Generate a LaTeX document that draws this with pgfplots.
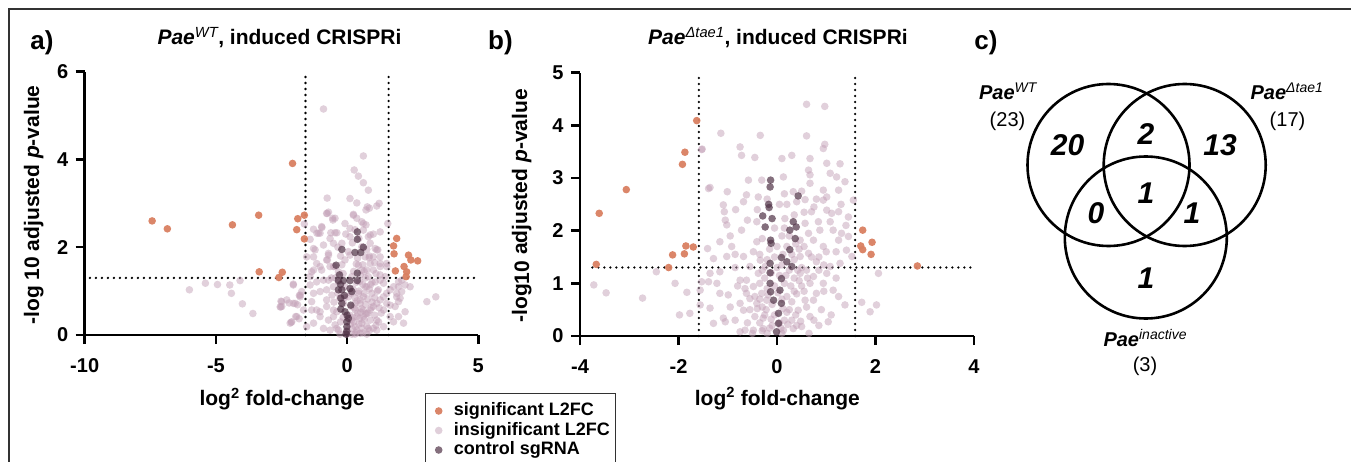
\documentclass[border=0pt]{standalone}
\usepackage{pgfplots}
\pgfplotsset{compat=1.18}
\usepackage{fontspec}
\setmainfont{Liberation Sans}
\definecolor{sigc}{RGB}{217,127,97}
\definecolor{insc}{RGB}{195,161,183}
\definecolor{ctlc}{RGB}{80,50,70}
\definecolor{framec}{RGB}{50,50,50}
\pgfplotsset{
  volc/.style={
    scale only axis, clip=false,
    axis lines=left, axis line style={-, line width=2.5pt, black},
    tick align=outside, major tick length=9pt,
    tick style={line width=2.5pt, black},
    /pgf/number format/assume math mode=true,
    tick label style={font=\fontsize{20}{23}\selectfont\bfseries},
    xticklabel style={yshift=-11pt},
    yticklabel style={xshift=-4pt},
    label style={font=\fontsize{21}{25}\selectfont\bfseries},
    title style={font=\fontsize{21}{25}\selectfont\bfseries},
  },
  insig/.style={only marks, mark=*, mark size=3.8pt, color=insc, mark options={draw opacity=0, line width=0pt, fill=insc, fill opacity=0.5}},
  ctl/.style={only marks, mark=*, mark size=3.8pt, color=ctlc, mark options={draw opacity=0, line width=0pt, fill=ctlc, fill opacity=0.7}},
  sig/.style={only marks, mark=*, mark size=3.8pt, color=sigc, mark options={draw opacity=0, line width=0pt, fill=sigc, fill opacity=0.95}},
  thr/.style={black, line width=2.6pt, line cap=round, dash pattern={on 0pt off 6pt}, no marks},
}
\newcommand{\legdot}[2]{\addlegendimage{legend image code/.code={%
  \draw[draw opacity=0, mark=*, mark repeat=2, mark phase=2, mark size=3.8pt, mark options={draw opacity=0, fill=#1, fill opacity=#2}] plot coordinates {(0pt,0pt) (8.5pt,0pt) (19.5pt,0pt)};}}}
\begin{document}
\begin{tikzpicture}
\useasboundingbox (0pt,0pt) rectangle (1351pt,461pt);
\clip (0pt,0pt) rectangle (1351pt,461pt);
\draw[framec, line width=1.2pt] (9pt,-10pt) -- (9pt,452pt) -- (1360pt,452pt);

% ---------------- panel a ----------------
\begin{axis}[volc, at={(84.7pt,126pt)}, anchor=south west,
  width=393.6pt, height=263.3pt,
  xmin=-10, xmax=5, ymin=0, ymax=6,
  xtick={-10,-5,0,5}, ytick={0,2,4,6},
  title={\textit{Pae}\textsuperscript{\mdseries\itshape WT}, induced CRISPRi},
  title style={at={(axis description cs:0.4949,1.08)}, anchor=base},
  xlabel={log\textsuperscript{2} fold-change},
  xlabel style={at={(axis description cs:0.5013,-0.268)}, anchor=base},
  ylabel={-log 10 adjusted \textit{p}-value},
  ylabel style={at={(axis description cs:-0.116,0.494)}, anchor=base},
  legend style={at={(axis description cs:0.8646,-0.219)}, anchor=north west,
    draw=framec, line width=1.2pt, inner xsep=4pt, inner ysep=8pt,
    font=\fontsize{18}{21}\selectfont\bfseries,
    nodes={inner sep=1.5pt, text height=13pt, text depth=3.5pt},
    column sep=2pt},
  legend cell align=left,
]
\legdot{sigc}{0.95}
\addlegendentry{significant L2FC}
\legdot{insc}{0.5}
\addlegendentry{insignificant L2FC}
\legdot{ctlc}{0.7}
\addlegendentry{control sgRNA}

\addplot[insig, forget plot] coordinates {
(-6.01,1.03) (-5.40,1.18) (-4.94,1.15) (-4.47,1.14) (-4.41,0.95) (-4.08,1.24) (-3.99,0.71) (-3.59,0.49)
(-2.52,0.77) (-2.53,0.64) (-2.21,0.73) (-2.05,1.16) (-1.89,0.69) (-1.82,0.90) (-2.13,0.29) (-1.96,0.42)
(-1.83,0.37) (-1.54,0.19) (-1.63,2.53) (-1.28,2.41) (-1.15,2.32) (-0.90,5.15)
(0.62,4.08) (0.27,3.76) (0.43,3.62) (0.62,3.47) (0.81,3.30) (-0.76,3.12) (0.11,3.11) (0.37,3.01)
(0.77,2.92) (1.22,3.00) (1.13,2.94) (0.85,2.89) (-0.76,2.77) (-0.55,2.66) (0.24,2.75) (0.37,2.66)
(0.72,2.85) (-0.71,2.80) (-0.54,2.62) (1.55,2.54) (-0.96,2.45) (-1.03,2.32) (-0.62,2.33) (-0.39,2.33)
(0.62,2.54) (0.81,2.24) (1.07,1.97) (1.17,1.94) (0.84,1.76) (1.26,1.63) (1.51,1.56) (1.45,1.33)
(-1.28,1.97) (-1.28,1.78) (-1.03,1.56) (-1.35,1.44) (-0.71,1.86) (-0.75,1.71) (-0.52,1.56)
(-1.79,0.91) (-2.05,0.72) (-2.49,0.76) (-2.55,0.64) (-2.11,0.30) (-1.92,0.42) (-1.35,0.57) (-1.03,0.53)
(-0.90,0.15) (1.64,1.03) (1.89,0.87) (1.96,0.76) (1.64,0.68) (3.04,0.76) (3.38,0.87) (2.21,1.14) (1.96,1.10)
(-0.78,2.77) (-0.46,2.66) (-0.97,2.47) (-0.46,2.33) (-1.09,2.32) (0.24,2.73) (0.56,2.58) (0.72,2.51)
(0.88,2.28) (1.26,2.35) (-0.08,2.54) (0.11,2.43) (0.62,2.39) (-0.90,2.05) (-0.71,1.82) (-0.52,2.09)
(-0.78,1.71) (-1.16,1.63) (-1.28,1.48) (-0.97,1.48) (-0.65,1.56) (-1.41,1.14) (-1.28,0.95) (-1.35,0.76)
(-1.98,0.72) (-1.79,0.87) (-2.05,1.14) (-2.30,0.80) (-2.49,0.65) (-2.17,0.27) (-1.66,0.57)
(-1.16,0.57) (-1.03,0.42) (-1.28,0.27) (-0.78,0.65) (-0.78,1.03) (-0.71,0.34) (-0.52,0.57) (-0.46,0.23)
(-0.65,0.11) (0.56,2.01) (0.88,2.09) (1.13,1.94) (1.00,1.78) (0.69,1.78) (1.26,1.56) (1.00,1.48)
(1.26,1.37) (1.07,1.21) (0.75,1.48) (0.69,1.10) (0.94,0.95) (1.19,1.03) (1.39,1.18) (1.51,0.95)
(1.26,0.80) (1.00,0.65) (0.75,0.49) (0.56,0.27) (0.37,0.11) (0.18,0.02) (0.81,0.15) (1.13,0.34)
(1.39,0.57) (1.51,0.72) (1.77,1.10) (1.96,1.21) (1.89,0.95) (2.02,0.84) (1.83,0.65) (1.64,0.42)
(1.77,0.30) (2.08,1.25) (0.43,0.95) (0.31,0.72) (0.31,0.57) (0.37,0.42) (0.18,0.34) (-0.01,0.11)
(0.50,0.72) (0.62,0.87) (-0.20,2.09) (0.11,2.24) (-0.33,1.21) (-0.08,1.10) (0.05,0.87) (-0.27,0.84)
(-0.39,0.53) (-0.52,0.42) (-0.33,0.11) (-0.14,0.72) (0.18,1.33) (0.50,1.37) (0.81,1.33) (-0.33,1.44)
(-1.16,1.21) (-1.03,0.99) (-1.73,0.99) (-0.90,1.25) (-1.41,1.33) (-0.08,1.71) (0.11,1.82) (0.43,1.59)
(0.56,1.48) (0.88,1.63) (1.26,1.78) (1.51,1.63) (1.26,1.25) (1.39,0.87) (1.13,0.72) (0.88,0.57)
(0.62,0.57) (0.62,0.42) (0.88,0.34) (1.39,0.19) (1.13,0.11) (0.75,0.02) (0.50,0.04) (-0.01,0.02)
(-0.27,0.02) (0.31,0.19) (0.56,0.15) (-0.78,0.80) (-0.58,0.91) (-0.71,1.25) (-0.52,1.10) (-0.46,1.56)
(-1.54,1.78) (-1.41,2.18) (-1.22,1.94) (2.08,0.99) (2.40,1.10) (1.96,0.42) (2.21,0.53) (2.15,0.27)
(0.25,0.30) (0.45,0.25) (0.65,0.35) (0.75,0.20) (0.40,0.50) (0.55,0.60) (0.70,0.70) (0.30,0.85)
(0.45,1.00) (0.60,1.15) (0.85,1.05) (0.95,0.75) (1.05,0.45) (0.20,0.15) (0.10,0.45) (0.35,0.05)
(0.60,0.05) (0.80,0.50) (0.50,0.80) (0.15,0.65) (0.95,1.20) (0.70,1.30) (0.35,1.20) (0.25,1.45)
(0.60,1.60) (0.40,1.75) (0.85,1.80) (1.10,1.40) (1.15,1.00) (1.20,0.30) (1.00,0.15) (-0.10,0.85)
(-0.25,0.30) (-0.40,0.15) (-0.50,0.75) (-0.60,1.30) (-0.20,1.60) (0.05,1.90) (0.20,2.10) (0.75,1.95)
(1.00,2.30) (0.45,2.20) (-0.05,2.30) (-0.35,2.00) (-0.65,2.20)
(0.22,0.40) (0.48,0.38) (0.70,0.48) (0.92,0.62) (0.28,0.62) (0.52,0.52) (0.78,0.82) (1.05,0.85)
(0.38,0.78) (0.65,0.95) (0.22,1.05) (0.90,1.15) (0.48,1.22) (0.75,1.10) (0.15,0.95) (1.30,0.50)
(1.22,0.62) (0.30,0.02) (0.85,0.10) (1.10,0.22) (0.12,0.25) (-0.15,0.40) (-0.35,0.95) (-0.45,1.30)
(-0.15,1.40) (0.35,1.62) (0.65,1.45) (1.05,1.65) (-0.25,1.80) (0.30,2.40)
};
\addplot[ctl, forget plot] coordinates {
(-0.20,1.95) (0.39,2.35) (0.39,2.18) (0.30,1.88) (0.52,1.88) (0.62,2.00) (-0.42,1.59) (-0.29,1.37)
(0.39,1.41) (-0.33,1.24) (-0.14,1.24) (0.11,1.24) (0.39,1.24) (-0.33,1.03) (-0.20,1.03) (0.11,1.06)
(0.18,0.99) (-0.24,0.84) (-0.20,0.72) (0.14,0.68) (-0.24,0.59) (-0.08,0.53) (0.05,0.38) (-0.01,0.30)
(-0.01,0.19) (-0.01,0.08) (-0.04,0.02) (-0.25,1.15) (-0.10,0.90) (0.00,0.45)
};
\addplot[sig, forget plot] coordinates {
(-7.43,2.60) (-6.85,2.42) (-4.37,2.51) (-3.37,2.73) (-3.35,1.44) (-2.60,1.31) (-2.47,1.43) (-2.08,3.91)
(-1.88,2.65) (-1.63,2.73) (-1.92,2.40) (-1.63,2.19) (1.89,2.20) (1.77,2.03) (1.79,1.85) (1.84,1.46)
(2.34,1.82) (2.43,1.71) (2.69,1.69) (2.17,1.56) (2.27,1.44) (2.25,1.33)
};
\addplot[thr, forget plot] coordinates {(-9.8,1.301) (5,1.301)};
\addplot[thr, forget plot] coordinates {(-1.585,0) (-1.585,6)};
\addplot[thr, forget plot] coordinates {(1.585,0) (1.585,6)};
\end{axis}

% ---------------- panel b ----------------
\begin{axis}[volc, at={(580pt,125pt)}, anchor=south west,
  width=394pt, height=263.3pt,
  xmin=-4, xmax=4, ymin=0, ymax=5,
  xtick={-4,-2,0,2,4}, ytick={0,1,2,3,4,5},
  title={\textit{Pae}\textsuperscript{\mdseries\itshape Δtae1}, induced CRISPRi},
  title style={at={(axis description cs:0.5025,1.084)}, anchor=base},
  xlabel={log\textsuperscript{2} fold-change},
  xlabel style={at={(axis description cs:0.501,-0.264)}, anchor=base},
  ylabel={-log\raisebox{-2pt}{10} adjusted \textit{p}-value},
  ylabel style={at={(axis description cs:-0.1345,0.494)}, anchor=base},
]
\addplot[insig] coordinates {
(0.60,4.40) (0.97,4.36) (-1.14,3.85) (-0.34,3.81) (0.60,3.80) (0.97,3.64) (0.94,3.56) (-1.53,3.54)
(-0.75,3.59) (-0.72,3.43) (-0.45,3.39) (0.10,3.37) (0.30,3.43) (0.67,3.37) (1.01,3.28) (1.28,3.27)
(1.08,3.09) (1.21,3.02) (1.38,2.93) (0.64,3.15) (0.67,3.06) (0.13,3.02) (-0.58,2.96) (-0.31,2.96)
(0.67,2.90) (-1.36,2.82) (-1.39,2.80) (-1.01,2.74) (-0.62,2.68) (-0.38,2.64) (0.33,2.74) (0.94,2.77)
(1.25,2.77) (1.55,2.58) (0.80,2.60) (0.94,2.58) (1.01,2.64) (0.57,2.59) (0.40,2.55) (-0.68,2.55)
(-1.09,2.49) (-1.07,2.36) (-0.84,2.40) (0.70,2.36) (1.01,2.39) (1.11,2.33) (1.25,2.36) (1.45,2.26)
(-1.05,2.20) (-1.02,2.11) (-0.72,2.01) (-0.41,2.17) (0.16,2.23) (0.57,2.14) (0.84,2.17) (1.08,2.17)
(1.14,2.01) (1.31,1.95) (1.45,1.89) (0.87,2.01) (0.64,1.95) (-1.16,1.79) (-0.92,1.70) (-1.41,1.66)
(-1.02,1.51) (-0.68,1.51) (-0.41,1.79) (-0.48,1.60) (-0.34,1.44) (0.47,1.82) (0.74,1.82) (0.94,1.70)
(1.25,1.82) (1.41,1.63) (1.52,1.51) (0.64,1.57) (0.47,1.51) (0.80,1.41) (1.08,1.32) (1.28,1.38)
(1.01,1.19) (0.74,1.13) (0.47,1.19) (0.67,1.00) (0.94,1.00) (1.14,0.87) (0.80,0.81) (0.74,0.68)
(0.57,0.68) (0.43,0.49) (0.67,0.37) (1.04,0.27) (1.38,0.59) (0.30,0.30) (0.13,0.11) (0.33,0.14)
(0.50,0.18) (-0.28,0.14) (-0.48,0.11) (-0.75,0.08) (-0.65,0.11) (-0.28,0.34) (-0.45,0.37) (-0.68,0.49)
(-0.75,0.62) (-0.99,0.78) (-1.16,0.81) (-1.22,1.00) (-1.39,1.03) (-1.36,1.19) (-1.16,1.22) (-1.29,1.47)
(-1.09,0.34) (-1.05,0.27) (-1.29,0.24) (-1.36,0.53) (-1.56,0.59) (-1.56,0.87) (-1.53,1.03) (-1.77,0.43)
(-1.98,0.40) (-1.83,0.83) (-2.07,1.00) (-2.45,1.22) (-2.73,0.72) (-3.72,0.97) (-3.47,0.82) (2.06,1.19)
(1.72,0.64) (2.02,0.59) (1.89,0.46) (-0.55,0.71) (-0.41,0.62) (-0.21,0.68) (-0.31,0.81) (-0.48,0.94)
(-0.62,1.06) (-0.38,1.19) (-0.24,1.32) (-0.55,1.32) (-0.75,1.06) (-0.62,0.81)
(-0.20,0.05) (-0.10,0.20) (0.15,0.30) (0.25,0.50) (0.20,0.75) (-0.30,0.55) (-0.35,0.25) (0.35,0.85)
(0.05,1.15) (-0.05,1.50) (0.20,1.70) (0.10,1.90) (0.25,1.25) (0.45,1.05) (0.55,0.85) (-0.20,0.90)
(-0.45,0.75) (0.60,1.25) (0.35,1.45) (0.15,2.05) (0.05,2.50) (0.55,2.35) (0.75,2.45) (-0.25,1.10)
(0.40,0.20) (0.10,0.05) (-0.05,0.40) (-1.52,3.55)
(-0.15,0.15) (0.05,0.25) (-0.25,0.40) (0.20,0.45) (-0.10,0.60) (0.30,0.65) (0.10,0.70) (-0.35,0.70)
(0.40,0.80) (-0.05,0.95) (0.15,1.00) (0.35,1.10) (-0.30,1.25) (0.50,1.30) (0.10,1.35) (-0.20,1.45)
(0.30,1.55) (0.45,1.65) (0.00,1.70) (-0.30,1.85) (0.25,1.90) (0.55,1.70) (-0.05,2.05) (0.35,2.30)
(0.20,2.50) (-0.40,2.40) (0.50,2.75) (0.15,2.70) (-0.20,2.60) (0.85,1.50) (1.00,1.60) (0.95,1.35)
(1.20,1.10) (1.25,0.75) (0.90,0.50) (1.10,0.40) (0.85,0.20) (-0.85,0.30) (-0.95,0.55) (-0.60,0.25)
(-0.50,0.05) (0.65,0.05) (-0.85,1.30) (-0.95,1.90) (-0.60,2.20) (1.30,2.50) (1.40,2.10) (1.20,1.60)
(-0.30,0.10) (-0.12,0.32) (0.08,0.15) (0.22,0.22) (-0.22,0.50) (0.12,0.52) (0.38,0.40) (-0.40,0.52)
(-0.18,0.78) (0.02,0.82) (0.28,0.95) (0.50,0.95) (-0.35,1.00) (0.18,1.15) (0.42,1.25) (-0.12,1.20)
(0.00,1.30) (0.62,1.10) (0.70,1.50) (0.38,1.75) (-0.15,1.65) (0.12,1.55) (-0.35,1.55) (0.85,1.25)
(0.95,0.85) (0.60,0.55) (0.48,0.28) (0.75,0.30) (-0.55,0.50) (-0.65,0.90) (-0.80,0.95) (-0.85,1.55)
};
\addplot[ctl] coordinates {
(-0.13,2.96) (-0.14,2.83) (-0.17,2.50) (-0.16,2.44) (-0.29,2.28) (-0.10,2.23) (-0.24,2.07) (-0.13,1.82)
(-0.12,1.76) (0.43,2.66) (0.33,2.17) (0.39,2.07) (0.26,2.01) (0.37,1.85) (0.26,1.64) (0.09,1.49)
(0.20,1.41) (-0.14,1.38) (-0.14,1.20) (0.30,1.32) (0.09,1.09) (-0.14,1.00) (-0.13,0.84) (0.06,0.87)
(-0.07,0.68) (0.09,0.62) (0.03,0.43) (0.03,0.24) (-0.01,0.08)
};
\addplot[sig] coordinates {
(-1.63,4.09) (-1.87,3.49) (-1.92,3.26) (-3.06,2.78) (-3.61,2.33) (-3.67,1.36) (-1.85,1.71) (-1.70,1.69)
(-1.88,1.56) (-2.12,1.54) (-2.20,1.30) (1.74,2.01) (1.70,1.71) (1.74,1.64) (1.93,1.78) (1.91,1.55)
(2.85,1.33)
};
\addplot[thr] coordinates {(-3.75,1.301) (4,1.301)};
\addplot[thr] coordinates {(-1.585,0) (-1.585,5)};
\addplot[thr] coordinates {(1.585,0) (1.585,5)};
\end{axis}

% ---------------- panel labels ----------------
\node[anchor=base, font=\fontsize{26}{30}\selectfont\bfseries] at (42pt,411pt) {a)};
\node[anchor=base, font=\fontsize{26}{30}\selectfont\bfseries] at (500.5pt,411pt) {b)};
\node[anchor=base, font=\fontsize{26}{30}\selectfont\bfseries] at (986pt,411pt) {c)};

% ---------------- panel c: Venn ----------------
\begin{scope}[line width=2.6pt]
\draw (1108.5pt,296pt) circle[radius=81pt];
\draw (1184.7pt,296pt) circle[radius=81pt];
\draw (1145.8pt,223.5pt) circle[radius=81pt];
\end{scope}
\begin{scope}[every node/.style={anchor=base, inner sep=0pt}]
\node[font=\fontsize{20}{24}\selectfont\bfseries\itshape] at (1008pt,361pt) {Pae\textsuperscript{\mdseries WT}};
\node[font=\fontsize{20}{24}\selectfont] at (1007.5pt,334.3pt) {(23)};
\node[font=\fontsize{20}{24}\selectfont\bfseries\itshape] at (1287pt,361pt) {Pae\textsuperscript{\mdseries Δtae1}};
\node[font=\fontsize{20}{24}\selectfont] at (1287.5pt,334.3pt) {(17)};
\node[font=\fontsize{20}{24}\selectfont\bfseries\itshape] at (1145.3pt,114.3pt) {Pae\textsuperscript{\mdseries inactive}};
\node[font=\fontsize{20}{24}\selectfont] at (1145pt,89.3pt) {(3)};
\node[font=\fontsize{30}{34}\selectfont\bfseries\itshape] at (1067.5pt,305pt) {20};
\node[font=\fontsize{30}{34}\selectfont\bfseries\itshape] at (1146pt,316pt) {2};
\node[font=\fontsize{30}{34}\selectfont\bfseries\itshape] at (1220pt,305pt) {13};
\node[font=\fontsize{30}{34}\selectfont\bfseries\itshape] at (1146pt,257.7pt) {1};
\node[font=\fontsize{30}{34}\selectfont\bfseries\itshape] at (1096pt,237pt) {0};
\node[font=\fontsize{30}{34}\selectfont\bfseries\itshape] at (1192pt,237pt) {1};
\node[font=\fontsize{30}{34}\selectfont\bfseries\itshape] at (1146pt,172.7pt) {1};
\end{scope}
\end{tikzpicture}
\end{document}
